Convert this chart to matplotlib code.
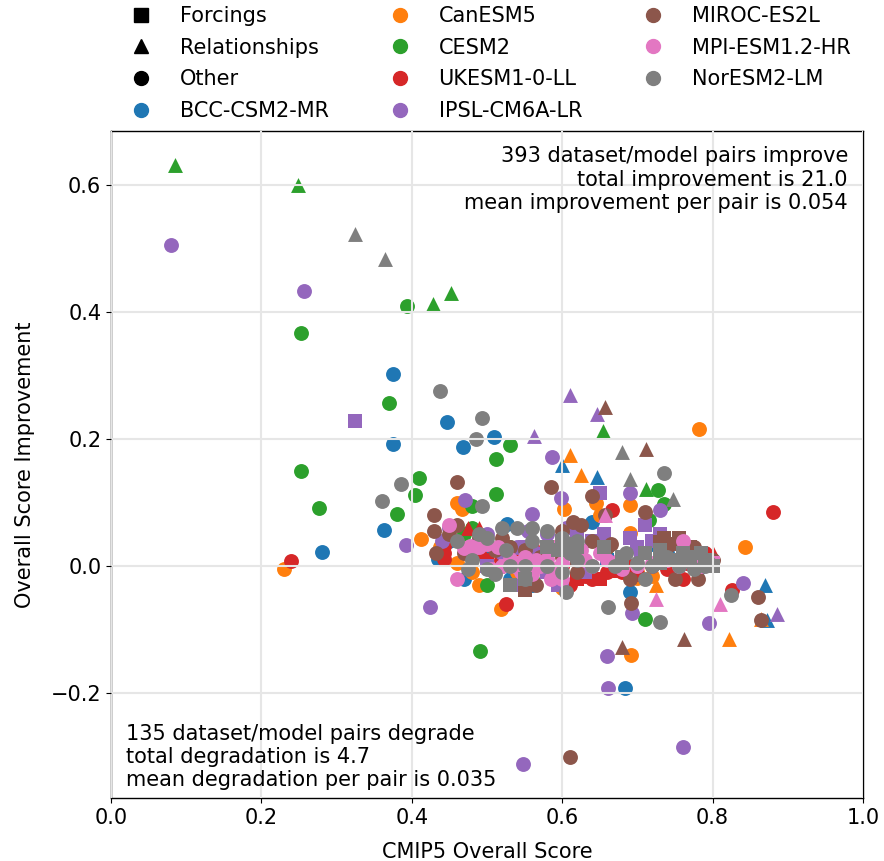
import matplotlib
matplotlib.use('Agg')
import matplotlib.pyplot as plt
from matplotlib.lines import Line2D

models = ['BCC-CSM2-MR', 'CanESM5', 'CESM2', 'UKESM1-0-LL', 'IPSL-CM6A-LR',
          'MIROC-ES2L', 'MPI-ESM1.2-HR', 'NorESM2-LM']
colors = ['C0', 'C1', 'C2', 'C3', 'C4', 'C5', 'C6', 'C7']

# (cmip5 score, improvement)
bcc_o = [(0.28, 0.023), (0.363, 0.057), (0.375, 0.303), (0.375, 0.192), (0.447, 0.227), (0.468, 0.187),
         (0.509, 0.203), (0.527, 0.066), (0.435, 0.012), (0.683, -0.192), (0.45, 0.04), (0.5, 0.02),
         (0.58, 0.0), (0.53, -0.02), (0.74, 0.02), (0.69, -0.04), (0.72, 0.035), (0.64, 0.07),
         (0.56, -0.03), (0.78, -0.005), (0.47, -0.02)]
bcc_t = [(0.6, 0.16), (0.646, 0.14), (0.87, -0.03), (0.873, -0.085)]
bcc_s = [(0.66, 0.01)]
can_o = [(0.23, -0.005), (0.412, 0.042), (0.46, 0.1), (0.467, 0.09), (0.437, 0.03), (0.782, 0.216),
         (0.843, 0.03), (0.692, -0.14), (0.518, -0.067), (0.603, 0.09), (0.69, 0.052), (0.69, 0.097),
         (0.7, -0.01), (0.48, -0.01), (0.49, -0.03), (0.6, -0.035), (0.54, -0.01), (0.63, 0.0),
         (0.645, 0.1), (0.65, 0.08), (0.72, -0.015), (0.59, 0.03), (0.46, 0.005), (0.7, -0.018)]
can_t = [(0.61, 0.175), (0.625, 0.143), (0.822, -0.115), (0.865, -0.083), (0.725, -0.03)]
can_s = [(0.62, 0.02)]
cesm_o = [(0.252, 0.149), (0.253, 0.367), (0.276, 0.092), (0.394, 0.41), (0.37, 0.257), (0.38, 0.082),
          (0.404, 0.112), (0.409, 0.139), (0.491, -0.133), (0.512, 0.168), (0.53, 0.19), (0.512, 0.113),
          (0.728, 0.12), (0.715, 0.072), (0.735, 0.098), (0.71, -0.083), (0.48, 0.095), (0.47, 0.05),
          (0.53, 0.03), (0.5, -0.03), (0.56, -0.02), (0.66, 0.03), (0.78, 0.02), (0.48, 0.06)]
cesm_t = [(0.085, 0.632), (0.249, 0.6), (0.428, 0.412), (0.452, 0.43), (0.654, 0.213), (0.712, 0.122)]
uk_o = [(0.24, 0.008), (0.88, 0.085), (0.666, 0.088), (0.525, -0.06), (0.443, 0.032), (0.443, 0.02),
        (0.443, 0.012), (0.826, -0.037), (0.54, 0.02), (0.6, 0.0), (0.64, -0.02), (0.68, -0.01),
        (0.72, 0.0), (0.76, -0.02), (0.56, 0.03), (0.49, 0.02), (0.61, -0.03), (0.745, 0.01),
        (0.5, 0.01), (0.52, 0.02), (0.58, -0.01), (0.63, -0.015), (0.66, -0.01), (0.7, -0.012),
        (0.74, -0.005), (0.78, 0.01), (0.79, 0.02)]
uk_t = [(0.475, 0.06), (0.49, 0.06), (0.8, 0.02), (0.77, 0.005)]
uk_s = [(0.65, -0.02), (0.52, 0.01), (0.695, 0.0), (0.745, -0.005), (0.62, -0.02), (0.67, -0.008)]
ipsl_o = [(0.08, 0.505), (0.256, 0.433), (0.392, 0.033), (0.424, -0.065), (0.471, 0.104), (0.586, 0.172),
          (0.598, 0.108), (0.548, -0.312), (0.76, -0.285), (0.661, -0.192), (0.66, -0.141), (0.795, -0.09),
          (0.84, -0.027), (0.693, -0.073), (0.69, 0.115), (0.73, 0.088), (0.56, 0.082), (0.5, 0.05),
          (0.58, 0.05), (0.605, 0.06), (0.44, 0.04), (0.45, 0.06), (0.54, 0.03), (0.49, 0.04), (0.555, 0.055),
          (0.52, 0.02), (0.565, 0.02)]
ipsl_t = [(0.563, 0.205), (0.61, 0.27), (0.646, 0.24), (0.885, -0.075)]
ipsl_s = [(0.325, 0.228), (0.65, 0.115), (0.71, 0.065), (0.63, -0.01), (0.535, -0.03), (0.72, 0.04),
          (0.64, 0.04), (0.61, 0.03), (0.58, -0.01), (0.7, 0.03), (0.6, -0.02), (0.655, 0.05),
          (0.69, 0.045), (0.705, 0.02), (0.73, 0.05), (0.5, 0.0), (0.54, 0.0), (0.56, 0.01), (0.595, -0.03),
          (0.62, 0.05), (0.55, 0.03)]
miroc_o = [(0.46, 0.133), (0.585, 0.125), (0.64, 0.11), (0.43, 0.08), (0.43, 0.055), (0.432, 0.02),
           (0.61, -0.3), (0.692, -0.058), (0.86, -0.048), (0.865, -0.085), (0.71, 0.085), (0.657, 0.08),
           (0.625, 0.065), (0.6, 0.055), (0.615, 0.07), (0.665, 0.035), (0.5, 0.035), (0.48, 0.03),
           (0.47, 0.02), (0.55, 0.025), (0.57, 0.015), (0.8, 0.01), (0.73, 0.02), (0.74, 0.03),
           (0.78, -0.02), (0.75, -0.02), (0.565, -0.03), (0.66, 0.03), (0.46, 0.065), (0.52, 0.0),
           (0.69, -0.02), (0.62, -0.01), (0.45, 0.05), (0.49, 0.045), (0.51, 0.025), (0.53, 0.03),
           (0.52, 0.045), (0.6, 0.015), (0.64, 0.04), (0.73, 0.035), (0.76, 0.025), (0.775, 0.03)]
miroc_t = [(0.657, 0.25), (0.712, 0.185), (0.762, -0.115), (0.68, -0.127)]
miroc_s = [(0.55, -0.037), (0.75, 0.035), (0.73, 0.038), (0.77, 0.03), (0.62, 0.01), (0.755, 0.045), (0.735, 0.045)]
mpi_o = [(0.45, 0.065), (0.49, 0.03), (0.47, 0.028), (0.5, 0.035), (0.46, -0.02), (0.52, 0.0), (0.55, 0.0),
         (0.6, -0.02), (0.505, -0.005), (0.535, 0.005), (0.565, 0.01), (0.585, -0.02), (0.59, 0.03),
         (0.57, 0.0), (0.55, 0.015), (0.63, 0.01), (0.66, 0.01), (0.68, -0.005), (0.74, 0.01), (0.77, 0.01),
         (0.76, 0.04), (0.478, 0.032), (0.54, -0.002), (0.6, 0.005), (0.72, 0.005), (0.485, 0.03), (0.515, 0.03),
         (0.53, 0.012), (0.545, -0.01), (0.56, -0.012), (0.58, 0.012), (0.61, 0.02), (0.625, 0.025), (0.64, 0.0),
         (0.65, 0.02), (0.675, 0.01), (0.7, 0.0), (0.755, 0.0), (0.785, 0.0), (0.59, -0.005)]
mpi_t = [(0.725, -0.052), (0.81, -0.06), (0.657, 0.08)]
mpi_s = [(0.8, 0.005), (0.525, 0.0), (0.545, 0.005)]
nor_o = [(0.36, 0.103), (0.386, 0.13), (0.438, 0.275), (0.493, 0.233), (0.485, 0.2), (0.735, 0.147),
         (0.493, 0.095), (0.661, -0.065), (0.73, -0.088), (0.825, -0.045), (0.48, 0.01), (0.46, 0.04),
         (0.52, 0.06), (0.54, 0.06), (0.56, 0.06), (0.58, 0.055), (0.6, 0.045), (0.49, 0.05), (0.525, 0.025),
         (0.5, -0.005), (0.55, 0.0), (0.58, 0.0), (0.605, -0.04), (0.62, 0.01), (0.67, 0.0), (0.72, 0.0),
         (0.74, 0.015), (0.765, 0.01), (0.79, 0.0), (0.71, -0.02), (0.56, 0.04), (0.5, 0.045), (0.55, -0.02),
         (0.685, 0.02), (0.62, 0.04), (0.7, 0.005), (0.755, 0.0), (0.775, -0.005), (0.6, -0.01), (0.64, 0.0),
         (0.475, -0.005), (0.51, -0.012), (0.53, 0.0), (0.61, 0.02), (0.795, 0.005)]
nor_t = [(0.325, 0.523), (0.365, 0.483), (0.68, 0.18), (0.69, 0.137), (0.747, 0.105)]
nor_s = [(0.53, -0.03), (0.6, 0.04), (0.71, 0.02), (0.75, 0.01), (0.62, 0.03), (0.68, 0.015), (0.55, -0.02),
         (0.77, 0.015), (0.79, 0.01), (0.655, 0.03), (0.73, 0.005), (0.58, 0.03), (0.595, 0.025), (0.76, 0.02),
         (0.785, 0.02), (0.73, 0.025), (0.8, 0.0), (0.68, 0.005), (0.61, 0.035)]

circles = [bcc_o, can_o, cesm_o, uk_o, ipsl_o, miroc_o, mpi_o, nor_o]
triangles = [bcc_t, can_t, cesm_t, uk_t, ipsl_t, miroc_t, mpi_t, nor_t]
squares = [bcc_s, can_s, [], uk_s, ipsl_s, miroc_s, mpi_s, nor_s]

plt.rcParams['font.size'] = 15
plt.rcParams['axes.linewidth'] = 1.0
fig = plt.figure(figsize=(8.84, 8.61), dpi=100)
ax = fig.add_axes([111 / 884, 1 - 798 / 861, 752 / 884, 667 / 861])

for i in range(len(models)):
    for pts, marker in [(squares[i], 's'), (triangles[i], '^'), (circles[i], 'o')]:
        if pts:
            ax.scatter([p[0] for p in pts], [p[1] for p in pts], s=115, marker=marker,
                       color=colors[i], linewidths=0, zorder=2)

ax.grid(color='0.9', linewidth=1.5, zorder=3)
ax.set_axisbelow(False)
ax.set_xlim(0, 1)
ax.set_ylim(-0.365, 0.685)
ax.set_xticks([0, 0.2, 0.4, 0.6, 0.8, 1.0])
ax.set_yticks([-0.2, 0, 0.2, 0.4, 0.6])
ax.set_xlabel('CMIP5 Overall Score', labelpad=10)
ax.set_ylabel('Overall Score Improvement', labelpad=11)

ax.text(0.98, 0.977, '393 dataset/model pairs improve\ntotal improvement is 21.0\n'
        'mean improvement per pair is 0.054', transform=ax.transAxes, ha='right', va='top')
ax.text(0.02, 0.012, '135 dataset/model pairs degrade\ntotal degradation is 4.7\n'
        'mean degradation per pair is 0.035', transform=ax.transAxes, ha='left', va='bottom')

handles = [Line2D([], [], ls='none', marker=m, color='k', markersize=10) for m in ['s', '^', 'o']]
labels = ['Forcings', 'Relationships', 'Other']
for name, c in zip(models, colors):
    handles.append(Line2D([], [], ls='none', marker='o', color=c, markersize=10))
    labels.append(name)
fig.legend(handles, labels, ncol=3, frameon=False, loc='upper left', bbox_to_anchor=(0.115, 1.015),
           columnspacing=2.42, labelspacing=0.56, handletextpad=0.85)

fig.savefig('out.png', dpi=100)
